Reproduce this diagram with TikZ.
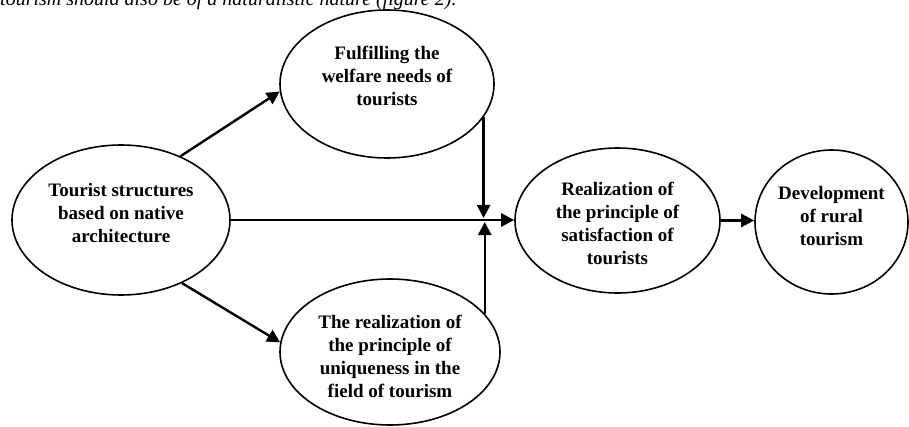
\documentclass[tikz,border=0pt]{standalone}
\usepackage{fontspec}
\setmainfont{Liberation Serif}
\usetikzlibrary{shapes.geometric, arrows.meta, positioning, calc}

\begin{document}
\begin{tikzpicture}[
  x=1pt, y=1pt,
  >={Triangle[length=13pt, width=13pt]},
  every node/.style={font=\bfseries\fontsize{19}{23}\selectfont},
  oval/.style = {ellipse, draw, line width=1.6pt, inner sep=0pt},
  txt/.style  = {align=center, inner sep=0pt},
  arr/.style  = {->, line width=2.4pt},
]
  \useasboundingbox (0,0) rectangle (909,426);
  % cut-off line of the text above the figure
  \node[font=\itshape\fontsize{20}{24}\selectfont, anchor=base west, inner sep=0pt] (cap) at (0,420)
    {tourism should also be of a naturalistic nature (figure 2).};
  \node[oval, minimum width=218pt, minimum height=150pt] (base)    at (121,206)     {};
  \node[oval, minimum width=214pt, minimum height=148pt] (welfare) at (387,342)     {};
  \node[oval, minimum width=220pt, minimum height=146pt] (unique)  at (390,74)      {};
  \node[oval, minimum width=205pt, minimum height=145pt] (satis)   at (617.5,205.5) {};
  \node[oval, minimum width=153pt, minimum height=144pt] (rural)   at (831.5,204)   {};
  \node[txt] (base-t)    at ([yshift=7pt]base.center)    {Tourist structures\\based on native\\architecture};
  \node[txt] (welfare-t) at ([yshift=8pt]welfare.center) {Fulfilling the\\welfare needs of\\tourists};
  \node[txt] (unique-t)  at ([yshift=-4pt]unique.center) {The realization of\\the principle of\\uniqueness in the\\field of tourism};
  \node[txt] (satis-t)   at ([yshift=-3pt]satis.center)  {Realization of\\the principle of\\satisfaction of\\tourists};
  \node[txt] (rural-t)   at ([yshift=6pt]rural.center)   {Development\\of rural\\tourism};
  \draw[arr] (base.47)  -- (welfare.184);
  \draw[arr] (base.-46) -- (unique.175);
  \draw[arr] (base.east) -- (base.east -| satis.west);
  \draw[arr] (welfare.-19) -- ([yshift=2pt]welfare.-19 |- base.east);
  \draw[arr] (unique.22.7) -- ([yshift=-2pt]unique.22.7 |- base.east);
  \draw[arr] (satis.east) -- (satis.east -| rural.west);
\end{tikzpicture}
\end{document}
